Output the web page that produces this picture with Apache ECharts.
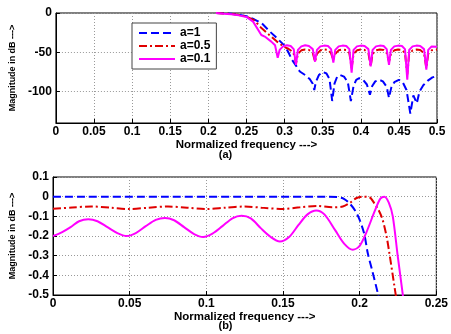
<!DOCTYPE html>
<html>
<head>
<meta charset="utf-8">
<script src="https://cdn.jsdelivr.net/npm/echarts@6/dist/echarts.min.js"></script>
<style>
html,body{margin:0;padding:0;background:#fff;}
#c{width:451px;height:334px;}
</style>
</head>
<body>
<div id="c"></div>
<script>
// ---- data: series names ----
const seriesNames = ['a=1', 'a=0.5', 'a=0.1'];

// ---- top panel (a): magnitude in dB (visible part below 0 dB) ----
const topA1 = [[0.21,0],[0.22,-0.4],[0.23,-1],[0.24,-2.2],[0.25,-4],[0.26,-8],[0.27,-13],[0.28,-23],[0.29,-32],[0.3,-41.5],[0.305,-50],[0.31,-60],[0.315,-67],[0.32,-74.5],[0.327,-79],[0.333,-84],[0.337,-90],[0.339,-98],[0.341,-88],[0.345,-79],[0.35,-75],[0.355,-77],[0.359,-84],[0.3625,-112],[0.3655,-90],[0.369,-81],[0.373,-79],[0.378,-81],[0.383,-88],[0.387,-112],[0.3905,-93],[0.394,-85],[0.398,-83],[0.403,-85],[0.408,-91],[0.412,-104],[0.415,-93],[0.419,-87],[0.424,-85],[0.429,-87],[0.434,-94],[0.437,-108],[0.44,-95],[0.444,-88],[0.45,-85],[0.455,-88],[0.46,-98],[0.465,-128],[0.469,-105],[0.4735,-115],[0.477,-100],[0.482,-92],[0.488,-86],[0.494,-82],[0.5,-80]];
const topA05 = [[0.21,0],[0.22,-0.5],[0.23,-1.2],[0.24,-2.5],[0.25,-4.5],[0.26,-9],[0.27,-19.5],[0.28,-28],[0.29,-36.4],[0.3,-43.5],[0.305,-45.5],[0.31,-49],[0.3125,-53],[0.315,-64],[0.3175,-52],[0.322,-47.5],[0.327,-46.5],[0.332,-47],[0.337,-51],[0.34,-62],[0.3425,-52],[0.347,-47.5],[0.352,-46.5],[0.357,-47],[0.361,-51],[0.364,-60],[0.3665,-52],[0.371,-47.5],[0.376,-46.5],[0.381,-47],[0.385,-51],[0.388,-70],[0.3905,-52],[0.395,-47.5],[0.4,-46.5],[0.405,-47],[0.41,-51],[0.413,-68],[0.4155,-52],[0.42,-47.5],[0.425,-46.5],[0.43,-47],[0.434,-51],[0.437,-62],[0.4395,-52],[0.444,-47.5],[0.449,-46.5],[0.454,-47],[0.458,-51],[0.461,-78],[0.4635,-52],[0.468,-47.5],[0.473,-46.5],[0.478,-47],[0.483,-51],[0.486,-70],[0.4885,-52],[0.493,-47.5],[0.5,-46.5]];
const topA01 = [[0.21,0],[0.22,-0.8],[0.23,-1.5],[0.24,-3],[0.25,-5],[0.2587,-11],[0.2695,-28],[0.274,-30],[0.2826,-36.4],[0.2875,-41],[0.291,-57],[0.2935,-47],[0.298,-42.5],[0.303,-41],[0.308,-42],[0.312,-46],[0.315,-66],[0.3175,-47],[0.322,-42.5],[0.327,-41],[0.332,-42],[0.337,-46],[0.34,-62],[0.3425,-47],[0.347,-42.5],[0.352,-41.5],[0.357,-42],[0.361,-46],[0.364,-63],[0.3665,-47],[0.371,-42.5],[0.376,-41.5],[0.381,-42],[0.385,-46],[0.388,-76],[0.3905,-47],[0.395,-42.5],[0.4,-41.5],[0.405,-42],[0.41,-46],[0.413,-68],[0.4155,-47],[0.42,-42.5],[0.425,-41.5],[0.43,-42],[0.434,-46],[0.437,-66],[0.4395,-47],[0.444,-42.5],[0.449,-41.5],[0.454,-42],[0.458,-46],[0.461,-85],[0.4635,-47],[0.468,-42.5],[0.473,-41.5],[0.478,-42],[0.483,-46],[0.486,-72],[0.4885,-47],[0.493,-42.5],[0.5,-43]];

// ---- bottom panel (b): passband detail in dB ----
const passA1 = [[0,0],[0.18,0],[0.186,-0.003],[0.19,-0.012],[0.1934,-0.034],[0.197,-0.07],[0.2,-0.118],[0.203,-0.19],[0.2053,-0.288],[0.208,-0.37],[0.2118,-0.49],[0.214,-0.57]];
const passA05 = [[0,-0.062],[0.0125,-0.055],[0.025,-0.05],[0.0375,-0.056],[0.05,-0.063],[0.0625,-0.056],[0.075,-0.05],[0.0875,-0.056],[0.1,-0.063],[0.1125,-0.056],[0.125,-0.05],[0.1375,-0.057],[0.15,-0.063],[0.161,-0.054],[0.172,-0.047],[0.182,-0.054],[0.189,-0.05],[0.194,-0.03],[0.1977,-0.008],[0.202,0],[0.2064,-0.003],[0.2096,-0.034],[0.2125,-0.07],[0.215,-0.118],[0.2175,-0.2],[0.2194,-0.288],[0.2227,-0.457],[0.2245,-0.55]];
const passA01 = [[0,-0.2],[0.006,-0.18],[0.0115,-0.155],[0.017,-0.125],[0.023,-0.115],[0.029,-0.125],[0.0355,-0.155],[0.042,-0.185],[0.048,-0.2],[0.054,-0.185],[0.0605,-0.15],[0.067,-0.118],[0.073,-0.108],[0.079,-0.12],[0.0855,-0.155],[0.092,-0.19],[0.098,-0.205],[0.104,-0.188],[0.1105,-0.15],[0.117,-0.11],[0.123,-0.097],[0.129,-0.11],[0.1355,-0.16],[0.142,-0.205],[0.148,-0.228],[0.154,-0.205],[0.16,-0.145],[0.166,-0.09],[0.1717,-0.07],[0.177,-0.09],[0.184,-0.17],[0.19,-0.24],[0.1955,-0.27],[0.2,-0.25],[0.2042,-0.185],[0.21,-0.07],[0.2135,-0.01],[0.2161,0],[0.219,-0.03],[0.2216,-0.1],[0.2248,-0.3],[0.228,-0.49],[0.229,-0.56]];

// ---- tick values / labels ----
const topYTicks = [-100, -50, 0];
const xLabel = 'Normalized frequency --->';
const yLabel = 'Magnitude in dB --->';
const panelLabels = ['(a)', '(b)'];

const FONT = '"Liberation Sans", Arial, sans-serif';
const styles = [
  {color:'#0000ff', type:[8,4], width:2},
  {color:'#e00000', type:[8,3,2,3], width:2},
  {color:'#ff00ff', type:'solid', width:2}
];

function xAxisCfg(gi, max){
  return {
    type:'value', gridIndex:gi, min:0, max:max, interval:0.05,
    name:xLabel, nameLocation:'middle', nameGap:16,
    nameTextStyle:{fontFamily:FONT, fontWeight:'bold', fontSize:11.5, color:'#000'},
    axisLine:{show:true, onZero:false, lineStyle:{color:'#000', width:1}},
    axisTick:{show:true, inside:true, length:4, lineStyle:{color:'#000'}},
    axisLabel:{fontFamily:FONT, fontWeight:'bold', fontSize:12, color:'#000', margin:3},
    splitLine:{show:true, lineStyle:{color:'#999', type:[1,2], width:1}}
  };
}

const option = {
  animation:false,
  backgroundColor:'#fff',
  grid:[
    {left:53, right:14, top:13, height:110, show:true, borderColor:'#000', borderWidth:1, backgroundColor:'transparent'},
    {left:53, right:14, top:177, height:118, show:true, borderColor:'#000', borderWidth:1, backgroundColor:'transparent'}
  ],
  xAxis:[ xAxisCfg(0, 0.5), xAxisCfg(1, 0.25) ],
  yAxis:[
    {
      type:'value', gridIndex:0, min:-140, max:0,
      name:yLabel, nameLocation:'middle', nameGap:30, nameRotate:90,
      nameTextStyle:{fontFamily:FONT, fontWeight:'bold', fontSize:9, color:'#000'},
      axisLine:{show:true, lineStyle:{color:'#000', width:1}},
      axisTick:{show:true, inside:true, length:4, customValues:topYTicks, lineStyle:{color:'#000'}},
      axisLabel:{fontFamily:FONT, fontWeight:'bold', fontSize:12, color:'#000', margin:4, customValues:topYTicks},
      splitLine:{show:true, lineStyle:{color:'#999', type:[1,2], width:1}}
    },
    {
      type:'value', gridIndex:1, min:-0.5, max:0.1, interval:0.1,
      name:yLabel, nameLocation:'middle', nameGap:31, nameRotate:90,
      nameTextStyle:{fontFamily:FONT, fontWeight:'bold', fontSize:9, color:'#000'},
      axisLine:{show:true, lineStyle:{color:'#000', width:1}},
      axisTick:{show:true, inside:true, length:4, lineStyle:{color:'#000'}},
      axisLabel:{fontFamily:FONT, fontWeight:'bold', fontSize:12, color:'#000', margin:4},
      splitLine:{show:true, lineStyle:{color:'#999', type:[1,2], width:1}}
    }
  ],
  legend:{
    data:seriesNames, left:132, top:23, orient:'vertical',
    padding:[4,6,4,6], itemGap:1, itemWidth:36, itemHeight:10,
    backgroundColor:'#fff', borderColor:'#444', borderWidth:1, borderRadius:0,
    itemStyle:{opacity:0},
    textStyle:{fontFamily:FONT, fontWeight:'bold', fontSize:12, color:'#000'}
  },
  graphic:[
    {type:'text', left:'center', top:149, style:{text:panelLabels[0], fontFamily:FONT, fontWeight:'bold', fontSize:11, fill:'#000'}},
    {type:'text', left:'center', top:320, style:{text:panelLabels[1], fontFamily:FONT, fontWeight:'bold', fontSize:11, fill:'#000'}}
  ],
  series:[]
};

const topData = [topA1, topA05, topA01];
const botData = [passA1, passA05, passA01];
for (let i=0;i<3;i++){
  option.series.push({
    name:seriesNames[i], type:'line', xAxisIndex:0, yAxisIndex:0,
    data:topData[i], showSymbol:false, symbol:'none', clip:true,
    lineStyle:styles[i], itemStyle:{color:styles[i].color}
  });
}
for (let i=0;i<3;i++){
  option.series.push({
    name:seriesNames[i], type:'line', xAxisIndex:1, yAxisIndex:1,
    data:botData[i], showSymbol:false, symbol:'none', clip:true, smooth:0.3,
    lineStyle:styles[i], itemStyle:{color:styles[i].color}
  });
}

const chart = echarts.init(document.getElementById('c'), null, {renderer:'canvas'});
chart.setOption(option);
</script>
</body>
</html>
